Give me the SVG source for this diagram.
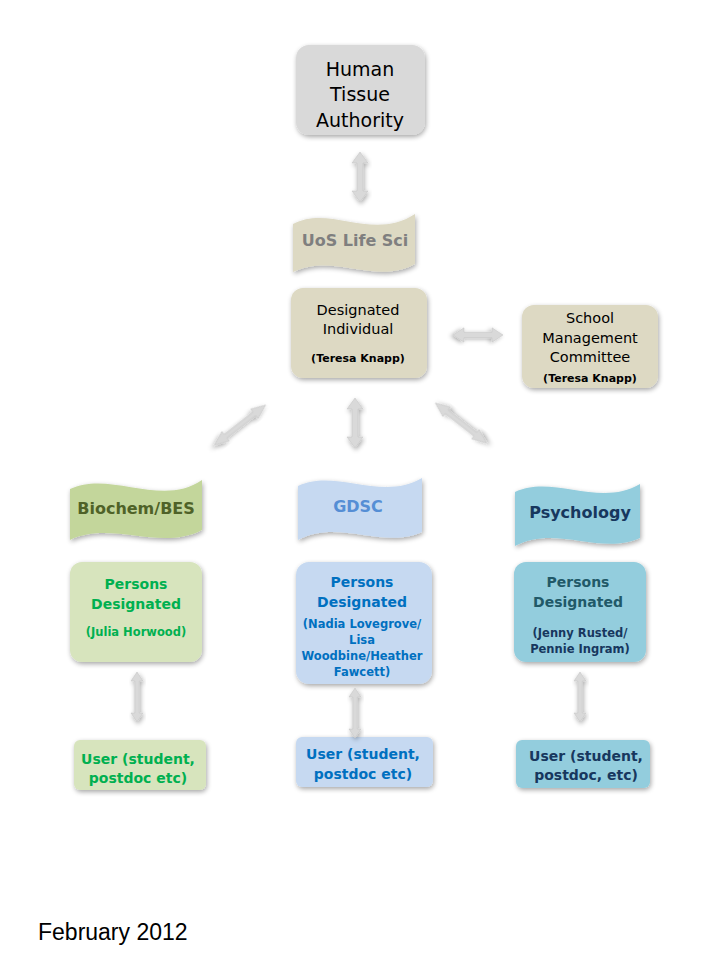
<svg xmlns="http://www.w3.org/2000/svg" width="720" height="960" viewBox="0 0 720 960">
<defs>
<filter id="sh" x="-20%" y="-20%" width="140%" height="140%">
<feGaussianBlur in="SourceAlpha" stdDeviation="2.5"/>
<feOffset dx="1" dy="2" result="b"/>
<feComponentTransfer><feFuncA type="linear" slope="0.35"/></feComponentTransfer>
<feMerge><feMergeNode/><feMergeNode in="SourceGraphic"/></feMerge>
</filter>
<path id="arw" d="M0,-25 L8,-14 L3,-14 L3,14 L8,14 L0,25 L-8,14 L-3,14 L-3,-14 L-8,-14 Z"/>
<path id="arwt" d="M0,-25 L6,-16 L2.2,-16 L2.2,16 L6,16 L0,25 L-6,16 L-2.2,16 L-2.2,-16 L-6,-16 Z"/>
</defs>
<style>
text{font-family:"Comic Sans MS","DejaVu Sans","Noto Sans",sans-serif;text-anchor:middle}
.box{filter:url(#sh)}
.ar{fill:#d9d9d9;stroke:#c8c8c8;stroke-width:0.6;filter:url(#sh)}
.t20{font-size:19px;fill:#000}
.t15{font-size:14.5px;fill:#000}
.sm{font-size:11px;font-weight:bold;fill:#000}
.ban{font-size:16px;font-weight:bold}
.pd{font-size:14px;font-weight:bold}
.nm{font-size:11.5px;font-weight:bold}
</style>
<rect width="720" height="960" fill="#fff"/>

<g id="hta">
<rect class="box" x="296" y="45" width="129" height="90" rx="13" fill="#d9d9d9"/>
<text class="t20" x="360" y="76">Human</text>
<text class="t20" x="360" y="101">Tissue</text>
<text class="t20" x="360" y="127">Authority</text>
</g>

<g id="uos">
<path class="box" d="M293,224 C330,204 372,242 415,214 L415,264 C376,286 334,252 293,272 Z" fill="#ddd9c3"/>
<text class="ban" x="355" y="246" fill="#7f7f7f">UoS Life Sci</text>
</g>

<g id="di">
<rect class="box" x="291" y="288" width="136" height="90" rx="12" fill="#ddd9c3"/>
<text class="t15" x="358" y="315">Designated</text>
<text class="t15" x="358" y="334">Individual</text>
<text class="sm" x="358" y="362">(Teresa Knapp)</text>
</g>

<g id="smc">
<rect class="box" x="522" y="305" width="136" height="83" rx="12" fill="#ddd9c3"/>
<text class="t15" x="590" y="323">School</text>
<text class="t15" x="590" y="343">Management</text>
<text class="t15" x="590" y="362">Committee</text>
<text class="sm" x="590" y="382">(Teresa Knapp)</text>
</g>

<g id="biochem">
<path class="box" d="M70,489 C110,470 162,508 202,480 L202,530 C160,552 112,520 70,540 Z" fill="#c3d69b"/>
<text class="ban" x="136" y="514" fill="#4f6228">Biochem/BES</text>
</g>

<g id="gdsc">
<path class="box" d="M298,486 C335,468 382,502 422,478 L422,532 C384,550 338,518 298,540 Z" fill="#c6d9f1"/>
<text class="ban" x="358" y="512" fill="#558ed5">GDSC</text>
</g>

<g id="psych">
<path class="box" d="M515,492 C552,474 600,508 640,484 L640,538 C600,556 556,524 515,546 Z" fill="#93cddd"/>
<text class="ban" x="580" y="518" fill="#17375e">Psychology</text>
</g>

<g id="pd-biochem">
<rect class="box" x="70" y="562" width="132" height="100" rx="12" fill="#d7e4bd"/>
<text class="pd" x="136" y="589" fill="#00b050">Persons</text>
<text class="pd" x="136" y="609" fill="#00b050">Designated</text>
<text class="nm" x="136" y="636" fill="#00b050">(Julia Horwood)</text>
</g>

<g id="pd-gdsc">
<rect class="box" x="296" y="562" width="136" height="122" rx="13" fill="#c6d9f1"/>
<text class="pd" x="362" y="587" fill="#0070c0">Persons</text>
<text class="pd" x="362" y="607" fill="#0070c0">Designated</text>
<text class="nm" x="362" y="628" fill="#0070c0">(Nadia Lovegrove/</text>
<text class="nm" x="362" y="644" fill="#0070c0">Lisa</text>
<text class="nm" x="362" y="660" fill="#0070c0">Woodbine/Heather</text>
<text class="nm" x="362" y="676" fill="#0070c0">Fawcett)</text>
</g>

<g id="pd-psych">
<rect class="box" x="514" y="562" width="132" height="100" rx="12" fill="#93cddd"/>
<text class="pd" x="578" y="587" fill="#215968">Persons</text>
<text class="pd" x="578" y="607" fill="#215968">Designated</text>
<text class="nm" x="580" y="637" fill="#17375e">(Jenny Rusted/</text>
<text class="nm" x="580" y="653" fill="#17375e">Pennie Ingram)</text>
</g>

<g id="user-biochem">
<rect class="box" x="74" y="740" width="132" height="50" rx="6" fill="#d7e4bd"/>
<text class="pd" x="138" y="764" fill="#00b050">User (student,</text>
<text class="pd" x="138" y="783" fill="#00b050">postdoc etc)</text>
</g>

<g id="user-gdsc">
<rect class="box" x="296" y="737" width="137" height="50" rx="6" fill="#c6d9f1"/>
<text class="pd" x="363" y="759" fill="#0070c0">User (student,</text>
<text class="pd" x="363" y="779" fill="#0070c0">postdoc etc)</text>
</g>

<g id="user-psych">
<rect class="box" x="516" y="740" width="134" height="48" rx="6" fill="#93cddd"/>
<text class="pd" x="586" y="761" fill="#17375e">User (student,</text>
<text class="pd" x="586" y="780" fill="#17375e">postdoc, etc)</text>
</g>

<g id="connectors">
<use href="#arw" class="ar" transform="translate(360,177)"/>
<use href="#arw" class="ar" transform="translate(478,335) rotate(90) scale(0.9,1)"/>
<use href="#arw" class="ar" transform="translate(240,425) rotate(52) scale(0.75,1.3)"/>
<use href="#arw" class="ar" transform="translate(355,423)"/>
<use href="#arw" class="ar" transform="translate(461,423) rotate(-52) scale(0.75,1.3)"/>
<use href="#arwt" class="ar" transform="translate(137,697)"/>
<use href="#arwt" class="ar" transform="translate(355,713)"/>
<use href="#arwt" class="ar" transform="translate(580,697)"/>
</g>

<text x="38" y="940" style="font-family:'Liberation Sans',Arial,sans-serif;font-size:23px;text-anchor:start;fill:#000">February 2012</text>
</svg>
